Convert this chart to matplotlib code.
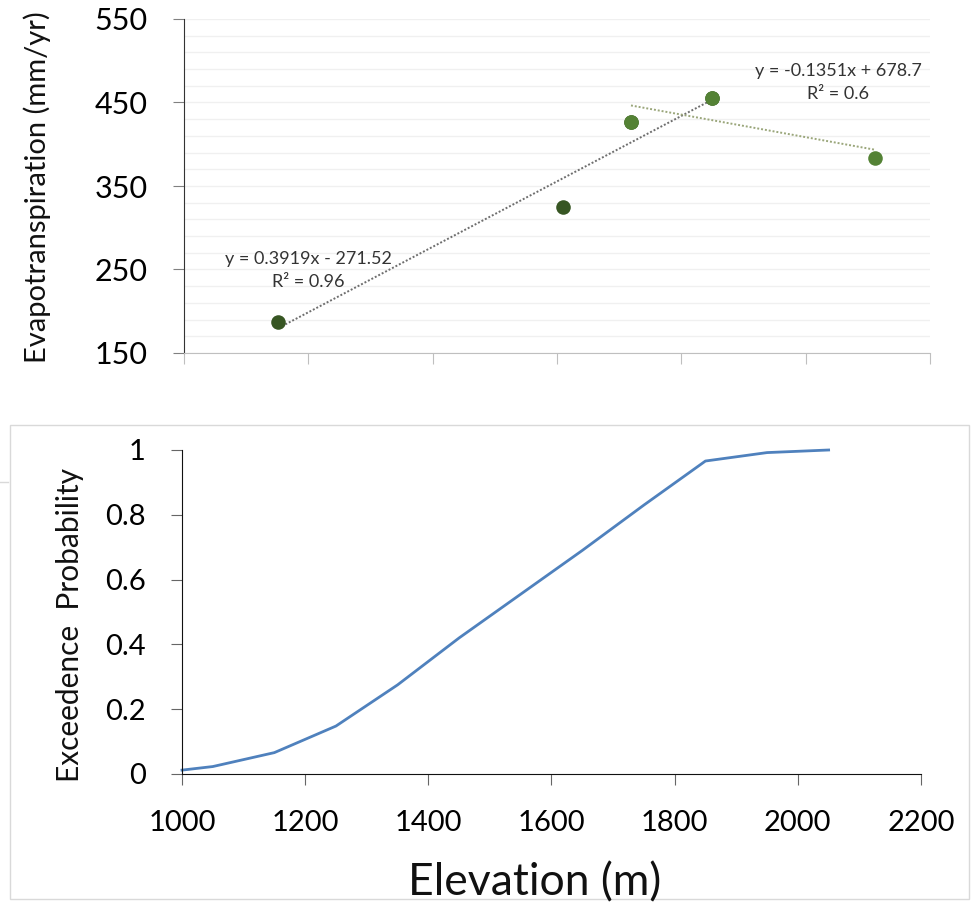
import matplotlib
matplotlib.use("Agg")
import matplotlib.pyplot as plt
from matplotlib.lines import Line2D
from matplotlib.patches import Rectangle
import numpy as np

plt.rcParams['font.family'] = ['Lato', 'DejaVu Sans']

# --- Evapotranspiration vs elevation (two groups of stations) ---
lower_elev = [1152, 1610, 1719, 1849]
lower_et = [187.5, 324.5, 427.0, 455.7]
upper_elev = [1719, 1849, 2112]
upper_et = [427.0, 455.7, 383.5]

# linear trend fits as reported on the chart
lower_slope, lower_icpt, lower_r2 = 0.3919, -271.52, 0.96
upper_slope, upper_icpt, upper_r2 = -0.1351, 678.7, 0.6

# --- Exceedence probability curve ---
elev = [1000, 1050, 1150, 1250, 1350, 1450, 1550, 1650, 1750, 1850, 1950, 2050]
exceed_prob = [0.012, 0.023, 0.066, 0.148, 0.275, 0.42, 0.555, 0.69, 0.83, 0.966, 0.992, 1.0]

et_ticks = [150, 250, 350, 450, 550]
prob_ticks = [0, 0.2, 0.4, 0.6, 0.8, 1]
prob_labels = ['0', '0.2', '0.4', '0.6', '0.8', '1']
elev_ticks = [1000, 1200, 1400, 1600, 1800, 2000, 2200]

W, H = 974, 907
fig = plt.figure(figsize=(W / 100, H / 100), dpi=100)


def box(l, t, r, b):
    return [l / W, 1 - b / H, (r - l) / W, (b - t) / H]


# frame around the lower panel
fig.add_artist(Rectangle((10 / W, 1 - 899 / H), 959 / W, 474 / H, transform=fig.transFigure,
                         fill=False, edgecolor='#d9d9d9', lw=1.0))
fig.add_artist(Line2D([0, 8 / W], [1 - 482 / H, 1 - 482 / H], transform=fig.transFigure,
                      color='#d9d9d9', lw=1.0))

# ---------------- top panel ----------------
ax1 = fig.add_axes(box(184, 19, 930, 353))
ax1.set_xlim(1000, 2200)
ax1.set_ylim(150, 550)
ax1.set_yticks(et_ticks)
ax1.set_yticks(np.arange(170, 551, 20), minor=True)
ax1.set_xticks(elev_ticks)
ax1.set_xticklabels([])
ax1.grid(True, which='both', axis='y', color='#f0f0f0', lw=1.0, zorder=0)
ax1.set_axisbelow(True)
for s in ['top', 'right']:
    ax1.spines[s].set_visible(False)
ax1.spines['left'].set_color('#333333')
ax1.spines['bottom'].set_color('#bfbfbf')
ax1.tick_params(axis='y', which='major', length=8, color='#808080', pad=18, labelsize=22)
ax1.tick_params(axis='y', which='minor', length=0)
ax1.tick_params(axis='x', length=8, color='#bfbfbf')

# trend lines
xl = np.array([min(lower_elev), max(lower_elev)])
ax1.plot(xl, lower_slope * xl + lower_icpt, linestyle=(0, (1, 1)), color='#6e6e6e', lw=1.4, zorder=2)
xu = np.array([min(upper_elev), max(upper_elev)])
ax1.plot(xu, upper_slope * xu + upper_icpt, linestyle=(0, (1, 1)), color='#9aa67a', lw=1.4, zorder=2)

ax1.scatter(lower_elev, lower_et, s=110, color='#375623', zorder=3, linewidths=0)
ax1.scatter(upper_elev, upper_et, s=110, color='#548235', zorder=4, linewidths=0)

ax1.text(1200, 262.5, f'y = {lower_slope}x - {abs(lower_icpt)}', ha='center', va='center',
         fontsize=13, color='#333333')
ax1.text(1200, 235, f'R² = {lower_r2}', ha='center', va='center', fontsize=13, color='#333333')
ax1.text(2052, 487.5, f'y = {upper_slope}x + {upper_icpt}', ha='center', va='center',
         fontsize=13, color='#333333')
ax1.text(2052, 460, f'R² = {upper_r2}', ha='center', va='center', fontsize=13, color='#333333')

fig.text(37 / W, 1 - 187 / H, 'Evapotranspiration (mm/yr)', rotation=90, ha='center', va='center',
         fontsize=21, color='#111111')

# ---------------- bottom panel ----------------
ax2 = fig.add_axes(box(182, 450, 921, 774))
ax2.plot(elev, exceed_prob, color='#4f81bd', lw=2.0, clip_on=False)
ax2.set_xlim(1000, 2200)
ax2.set_ylim(0, 1)
ax2.set_xticks(elev_ticks)
ax2.set_yticks(prob_ticks)
ax2.set_yticklabels(prob_labels)
for s in ['top', 'right']:
    ax2.spines[s].set_visible(False)
ax2.spines['left'].set_color('#111111')
ax2.spines['bottom'].set_color('#111111')
ax2.tick_params(axis='y', length=8, color='#666666', pad=18, labelsize=21)
ax2.tick_params(axis='x', length=8, color='#666666', pad=18, labelsize=21)

fig.text(70 / W, 1 - 625 / H, 'Exceedence  Probability', rotation=90, ha='center', va='center',
         fontsize=21.5, color='#111111')
fig.text(535 / W, 1 - 883 / H, 'Elevation (m)', ha='center', va='center', fontsize=32, color='#111111')

fig.savefig('out.png', dpi=100, facecolor='white')
